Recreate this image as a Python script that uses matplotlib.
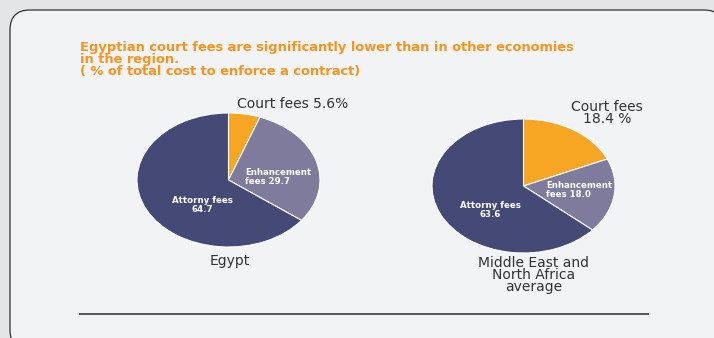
import matplotlib
matplotlib.use("Agg")
import matplotlib.pyplot as plt
from matplotlib.patches import FancyBboxPatch

# ---- data ----
categories = ["Court fees", "Enhancement fees", "Attorny fees"]
egypt_values = [5.6, 29.7, 64.7]
mena_values = [18.4, 18.0, 63.6]
pie_names = ["Egypt", "Middle East and\nNorth Africa\naverage"]
title_text = ("Egyptian court fees are significantly lower than in other economies\n"
              "in the region.\n( % of total cost to enforce a contract)")

colors = ["#F6A623", "#7E7B9C", "#454975"]

W, H = 714, 338
fig = plt.figure(figsize=(W / 100, H / 100), dpi=100)
fig.patch.set_facecolor("#E4E5E7")

bg = fig.add_axes([0, 0, 1, 1])
bg.set_xlim(0, W)
bg.set_ylim(H, 0)
bg.axis("off")

box = FancyBboxPatch((10, 10), 714, 340, boxstyle="round,pad=0,rounding_size=20",
                     facecolor="#F2F3F5", edgecolor="#333333", lw=0.9)
bg.add_patch(box)
bg.plot([79, 649], [314, 314], color="#555555", lw=1.4, solid_capstyle="butt")


def make_pie(box_px, values):
    x0, y0, x1, y1 = box_px
    ax = fig.add_axes([x0 / W, 1 - y1 / H, (x1 - x0) / W, (y1 - y0) / H])
    ax.pie(values, colors=colors, startangle=90, counterclock=False, radius=1,
           wedgeprops=dict(edgecolor="white", linewidth=0.8))
    ax.set_aspect("auto")
    ax.set_xlim(-1, 1)
    ax.set_ylim(-1, 1)
    ax.axis("off")
    return ax


make_pie((137, 113, 320, 247), egypt_values)
make_pie((432, 119, 615, 253), mena_values)

# overlay for text
tx = fig.add_axes([0, 0, 1, 1])
tx.set_xlim(0, W)
tx.set_ylim(H, 0)
tx.axis("off")
tx.patch.set_alpha(0)

tx.text(80, 41, title_text, color="#F7941E", fontsize=9.4, fontweight="bold",
        ha="left", va="top", linespacing=0.9, family="DejaVu Sans")

lab = dict(color="#333333", fontsize=10.0, family="DejaVu Sans")
white = dict(color="white", fontsize=6.2, fontweight="bold", family="DejaVu Sans",
             linespacing=0.92)

# Egypt labels
tx.text(293, 104, f"{categories[0]} {egypt_values[0]}%", ha="center", va="center", **lab)
tx.text(230, 261, pie_names[0], ha="center", va="center", **lab)
tx.text(245, 177, f"Enhancement\nfees {egypt_values[1]}", ha="left", va="center", **white)
tx.text(202, 205, f"Attorny fees\n{egypt_values[2]}", ha="center", va="center", **white)

# MENA labels
tx.text(607, 113, f"{categories[0]}\n{mena_values[0]} %", ha="center", va="center",
        linespacing=0.88, **lab)
tx.text(534, 275, pie_names[1], ha="center", va="center", linespacing=0.85, **lab)
tx.text(546, 190, f"Enhancement\nfees {mena_values[1]}", ha="left", va="center", **white)
tx.text(490, 210, f"Attorny fees\n{mena_values[2]}", ha="center", va="center", **white)

fig.savefig("out.png", dpi=100, facecolor=fig.get_facecolor())
